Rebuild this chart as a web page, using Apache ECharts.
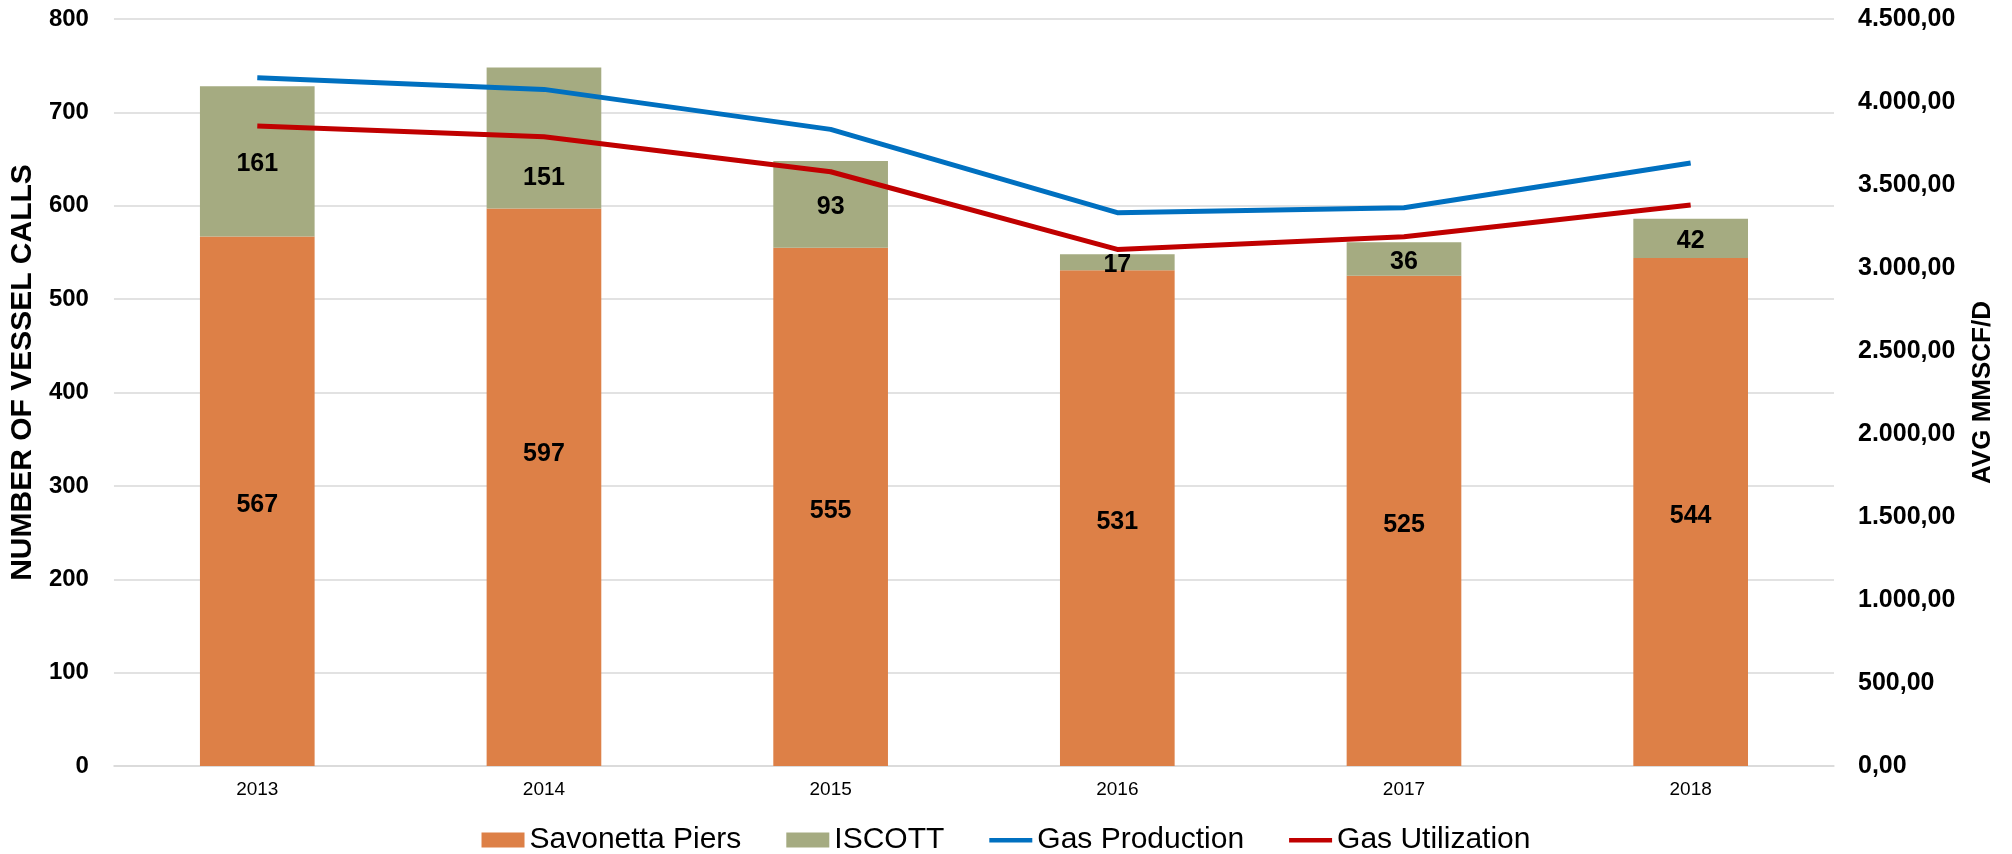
<!DOCTYPE html>
<html>
<head>
<meta charset="utf-8">
<script src="https://cdn.jsdelivr.net/npm/echarts@6/dist/echarts.min.js"></script>
<style>
html,body{margin:0;padding:0;background:#fff;}
#chart{width:2012px;height:854px;}
</style>
</head>
<body>
<div id="chart"></div>
<script>
const years = ['2013','2014','2015','2016','2017','2018'];
const savonettaPiers = [567, 597, 555, 531, 525, 544];
const iscott = [161, 151, 93, 17, 36, 42];
const gasProduction = [4146, 4076, 3835, 3333, 3363, 3632];
const gasUtilization = [3855, 3791, 3580, 3112, 3188, 3379];

const leftTitle = 'NUMBER OF VESSEL CALLS';
const rightTitle = 'AVG MMSCF/D';

function fmtEU(v) {
  const parts = v.toFixed(2).split('.');
  const intPart = parts[0].replace(/\B(?=(\d{3})+(?!\d))/g, '.');
  return intPart + ',' + parts[1];
}

// In the original, the 2014 labels are nudged away from the centre of their segments
const savData = savonettaPiers.map((v, i) => i === 1 ? { value: v, label: { offset: [0, -33] } } : v);
const iscottData = iscott.map((v, i) => i === 1 ? { value: v, label: { offset: [0, 40] } } : v);

const lineIcon = 'path://M0,0L0.01,0L0.01,0.01L0,0.01Z M0,5.5L43,5.5L43,10L0,10Z M42.99,15L43,15L43,14.99L42.99,14.99Z';

const font = 'Liberation Sans, Arial, sans-serif';
const chart = echarts.init(document.getElementById('chart'));
chart.setOption({
  animation: false,
  textStyle: { fontFamily: font },
  grid: { left: 113, right: 178, top: 19, bottom: 88, containLabel: false },
  legend: {
    top: 820,
    left: 'center',
    itemWidth: 43,
    itemHeight: 15,
    itemGap: 45,
    textStyle: { fontFamily: font, fontSize: 30, color: '#000' },
    data: [
      { name: 'Savonetta Piers', icon: 'rect' },
      { name: 'ISCOTT', icon: 'rect' },
      { name: 'Gas Production', icon: lineIcon },
      { name: 'Gas Utilization', icon: lineIcon }
    ]
  },
  xAxis: {
    type: 'category',
    data: years,
    axisLine: { lineStyle: { color: '#d9d9d9', width: 1.5 } },
    axisTick: { show: false },
    axisLabel: { fontSize: 19, color: '#000', margin: 14, fontFamily: font }
  },
  yAxis: [
    {
      type: 'value', min: 0, max: 800, interval: 100,
      name: leftTitle, nameLocation: 'middle', nameGap: 70, nameRotate: 90,
      nameTextStyle: { fontSize: 30, fontWeight: 'bold', color: '#000', fontFamily: font, padding: [0, 0, 0, 40] },
      axisLine: { show: false }, axisTick: { show: false },
      axisLabel: { fontSize: 24, fontWeight: 'bold', color: '#000', margin: 25, fontFamily: font },
      splitLine: { lineStyle: { color: '#d9d9d9', width: 1.5 } }
    },
    {
      type: 'value', min: 0, max: 4500, interval: 500,
      name: rightTitle, nameLocation: 'middle', nameGap: 136, nameRotate: 90,
      nameTextStyle: { fontSize: 26, fontWeight: 'bold', color: '#000', fontFamily: font },
      axisLine: { show: false }, axisTick: { show: false },
      axisLabel: { fontSize: 25, fontWeight: 'bold', color: '#000', margin: 24, fontFamily: font, formatter: fmtEU },
      splitLine: { show: false }
    }
  ],
  series: [
    {
      name: 'Savonetta Piers', type: 'bar', stack: 'calls', barWidth: '40%',
      data: savData,
      itemStyle: { color: '#DD8047' },
      label: { show: true, position: 'inside', offset: [0, 4], fontSize: 25, fontWeight: 'bold', color: '#000', fontFamily: font }
    },
    {
      name: 'ISCOTT', type: 'bar', stack: 'calls', barWidth: '40%',
      data: iscottData,
      itemStyle: { color: '#A5AB81' },
      label: { show: true, position: 'inside', offset: [0, 3], fontSize: 25, fontWeight: 'bold', color: '#000', fontFamily: font }
    },
    {
      name: 'Gas Production', type: 'line', yAxisIndex: 1,
      data: gasProduction, symbol: 'none',
      lineStyle: { color: '#0070C0', width: 5 }, itemStyle: { color: '#0070C0' }
    },
    {
      name: 'Gas Utilization', type: 'line', yAxisIndex: 1,
      data: gasUtilization, symbol: 'none',
      lineStyle: { color: '#C00000', width: 5 }, itemStyle: { color: '#C00000' }
    }
  ]
});
</script>
</body>
</html>
